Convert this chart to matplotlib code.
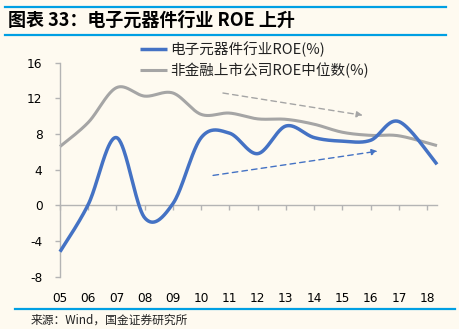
import numpy as np
import matplotlib
matplotlib.use("Agg")
import matplotlib.pyplot as plt
from matplotlib.lines import Line2D

plt.rcParams['font.family'] = ['Noto Sans CJK SC', 'DejaVu Sans']

# ---- data ----
year_labels = ['05', '06', '07', '08', '09', '10', '11', '12', '13', '14', '15', '16', '17', '18']
tick_years = [2005, 2006, 2007, 2008, 2009, 2010, 2011, 2012, 2013, 2014, 2015, 2016, 2017, 2018]
x_time = [2005, 2006, 2007, 2008, 2009, 2010, 2011, 2012, 2013, 2014, 2015, 2016, 2017, 2018.35]
roe_elec = [-5.2, 0.1, 7.6, -1.4, 0.2, 7.6, 8.1, 5.8, 8.9, 7.6, 7.2, 7.3, 9.4, 4.6]
roe_median = [6.6, 9.3, 13.2, 12.25, 12.6, 10.2, 10.35, 9.7, 9.65, 9.1, 8.2, 7.85, 7.8, 6.7]
series_names = ['电子元器件行业ROE(%)', '非金融上市公司ROE中位数(%)']
y_ticks = [-8, -4, 0, 4, 8, 12, 16]
title = '图表 33：电子元器件行业 ROE 上升'
source = '来源：Wind，国金证券研究所'

BLUE = '#4472C4'
GRAY = '#A5A5A5'
BG = '#FEFAF0'
LINEBLUE = '#009FE3'
AXGRAY = '#B4B4B4'


def smooth(x, y, n=40):
    pts = np.column_stack([x, y]).astype(float)
    P = np.vstack([pts[0], pts, pts[-1]])
    out = []
    t = np.linspace(0, 1, n)[:, None]
    for i in range(1, len(P) - 2):
        p0, p1, p2, p3 = P[i - 1], P[i], P[i + 1], P[i + 2]
        c1 = p1 + (p2 - p0) / 6.0
        c2 = p2 - (p3 - p1) / 6.0
        seg = (1 - t) ** 3 * p1 + 3 * (1 - t) ** 2 * t * c1 + 3 * (1 - t) * t ** 2 * c2 + t ** 3 * p2
        out.append(seg if i == 1 else seg[1:])
    return np.vstack(out)


W, H = 459, 329
fig = plt.figure(figsize=(W / 100, H / 100), dpi=100, facecolor=BG)
ax = fig.add_axes([60 / W, 1 - 276.7 / H, (437 - 60) / W, (276.7 - 62.7) / H])
ax.set_facecolor(BG)

s1 = smooth(x_time, roe_elec)
s2 = smooth(x_time, roe_median)
ax.plot(s1[:, 0], s1[:, 1], color=BLUE, lw=2.5, solid_capstyle='butt', clip_on=False, label=series_names[0], zorder=3)
ax.plot(s2[:, 0], s2[:, 1], color=GRAY, lw=2.2, solid_capstyle='butt', clip_on=False, label=series_names[1], zorder=2)

ax.set_xlim(x_time[0], x_time[-1])
ax.set_ylim(y_ticks[0], y_ticks[-1])

for sp in ['top', 'right', 'bottom']:
    ax.spines[sp].set_visible(False)
ax.spines['left'].set_color(AXGRAY)
ax.spines['left'].set_linewidth(1)

ax.set_yticks(y_ticks)
ax.set_yticklabels([str(v) for v in y_ticks], family='DejaVu Sans', fontsize=8.7)
ax.tick_params(axis='y', direction='out', length=3.6, width=1, color=AXGRAY, pad=9)

ax.set_xticks(tick_years)
ax.set_xticklabels(year_labels, family='DejaVu Sans', fontsize=8.7)
ax.tick_params(axis='x', length=0, pad=11)

zero_frac = (0 - y_ticks[0]) / (y_ticks[-1] - y_ticks[0])
sec = ax.secondary_xaxis(zero_frac)
sec.set_xticks(tick_years)
sec.tick_params(axis='x', direction='out', length=3.6, width=1, color=AXGRAY,
                labelbottom=False, labeltop=False)
for sp in sec.spines.values():
    sp.set_color(AXGRAY)
    sp.set_linewidth(1)

# trend arrows
ax.annotate('', xy=(2015.72, 10.1), xytext=(2010.77, 12.6),
            arrowprops=dict(arrowstyle='-|>', color=GRAY, lw=1, linestyle=(0, (4, 3)),
                            mutation_scale=9, shrinkA=0, shrinkB=0))
ax.annotate('', xy=(2016.25, 6.08), xytext=(2010.42, 3.36),
            arrowprops=dict(arrowstyle='-|>', color=BLUE, lw=1, linestyle=(0, (4, 3)),
                            mutation_scale=9, shrinkA=0, shrinkB=0))

leg = fig.legend(loc='upper left', bbox_to_anchor=(140 / W, 1 - 41 / H),
                 frameon=False, fontsize=10.5, handlelength=1.85, handletextpad=0.2,
                 labelspacing=0.4, borderpad=0, borderaxespad=0)
for t in leg.get_texts():
    t.set_color('#222222')

fig.text(8 / W, 1 - 20.5 / H, title, fontsize=13, fontweight='bold', va='center', ha='left', color='black')
fig.add_artist(Line2D([5 / W, 446 / W], [1 - 7.3 / H] * 2, color=LINEBLUE, lw=1.6))
fig.add_artist(Line2D([5 / W, 446 / W], [1 - 34.5 / H] * 2, color=LINEBLUE, lw=1.6))
fig.add_artist(Line2D([15 / W, 455 / W], [1 - 308.5 / H] * 2, color=LINEBLUE, lw=1.6))
fig.text(31 / W, 1 - 320 / H, source, fontsize=8.5, va='center', ha='left', color='#222222')

fig.savefig('out.png', dpi=100, facecolor=BG)
